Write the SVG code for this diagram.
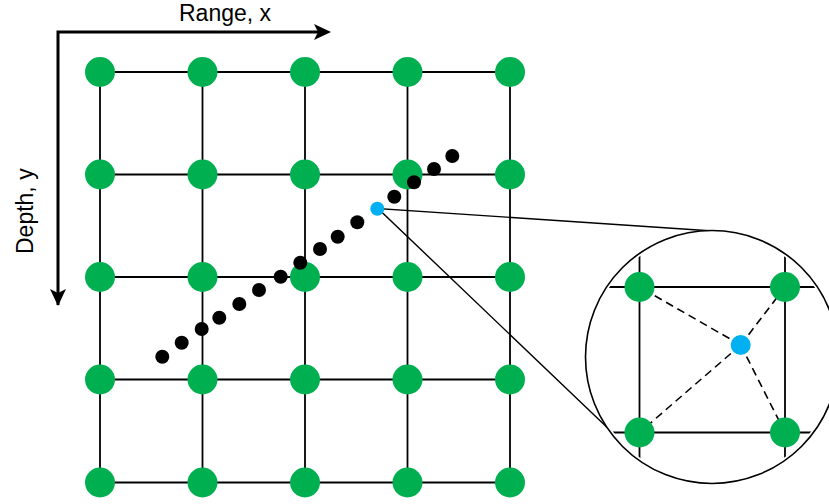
<svg xmlns="http://www.w3.org/2000/svg" width="829" height="504" viewBox="0 0 829 504">
<style>
.grid{stroke:#000;stroke-width:1.8;fill:none}
.g{fill:#00B050}
.b{fill:#00B0F0}
.k{fill:#000}
.ax{stroke:#000;stroke-width:3;fill:none}
.zl{stroke:#000;stroke-width:1.4;fill:none}
.dash{stroke:#000;stroke-width:1.6;stroke-dasharray:8 5;fill:none}
.lbl{font-family:"Liberation Sans",Arial,sans-serif;font-size:23px;fill:#000}
</style>
<defs>
<clipPath id="cc"><circle cx="712" cy="357" r="124"/></clipPath>
</defs>
<rect width="829" height="504" fill="#fff"/>

<g id="axes">
<path class="ax" d="M58,305 V32 H320"/>
<path d="M331,32 L314,24 L318,32 L314,40 Z" fill="#000"/>
<path d="M58,306 L50,289 L58,293 L66,289 Z" fill="#000"/>
<text class="lbl" x="179" y="21">Range, x</text>
<text class="lbl" transform="translate(33,254) rotate(-90)">Depth, y</text>
</g>

<g id="connectors">
<g class="grid">
<path d="M100,72 H510 M100,174.5 H510 M100,277 H510 M100,379.5 H510 M100,482.5 H510"/>
<path d="M100,72 V482.5 M202.5,72 V482.5 M305,72 V482.5 M407.5,72 V482.5 M510,72 V482.5"/>
</g>
<path class="zl" d="M713,231 L378,208.5 L614,434"/>
</g>

<g id="grid-nodes">
<g id="n11"><circle class="g" cx="100" cy="72" r="15"/></g>
<g id="n12"><circle class="g" cx="202.5" cy="72" r="15"/></g>
<g id="n13"><circle class="g" cx="305" cy="72" r="15"/></g>
<g id="n14"><circle class="g" cx="407.5" cy="72" r="15"/></g>
<g id="n15"><circle class="g" cx="510" cy="72" r="15"/></g>
<g id="n21"><circle class="g" cx="100" cy="174.5" r="15"/></g>
<g id="n22"><circle class="g" cx="202.5" cy="174.5" r="15"/></g>
<g id="n23"><circle class="g" cx="305" cy="174.5" r="15"/></g>
<g id="n24"><circle class="g" cx="407.5" cy="174.5" r="15"/></g>
<g id="n25"><circle class="g" cx="510" cy="174.5" r="15"/></g>
<g id="n31"><circle class="g" cx="100" cy="277" r="15"/></g>
<g id="n32"><circle class="g" cx="202.5" cy="277" r="15"/></g>
<g id="n33"><circle class="g" cx="305" cy="277" r="15"/></g>
<g id="n34"><circle class="g" cx="407.5" cy="277" r="15"/></g>
<g id="n35"><circle class="g" cx="510" cy="277" r="15"/></g>
<g id="n41"><circle class="g" cx="100" cy="379.5" r="15"/></g>
<g id="n42"><circle class="g" cx="202.5" cy="379.5" r="15"/></g>
<g id="n43"><circle class="g" cx="305" cy="379.5" r="15"/></g>
<g id="n44"><circle class="g" cx="407.5" cy="379.5" r="15"/></g>
<g id="n45"><circle class="g" cx="510" cy="379.5" r="15"/></g>
<g id="n51"><circle class="g" cx="100" cy="482.5" r="15"/></g>
<g id="n52"><circle class="g" cx="202.5" cy="482.5" r="15"/></g>
<g id="n53"><circle class="g" cx="305" cy="482.5" r="15"/></g>
<g id="n54"><circle class="g" cx="407.5" cy="482.5" r="15"/></g>
<g id="n55"><circle class="g" cx="510" cy="482.5" r="15"/></g>
</g>

<g id="track">
<circle class="k" cx="162.3" cy="356.7" r="7"/>
<circle class="k" cx="181.7" cy="342.7" r="7"/>
<circle class="k" cx="201.7" cy="329" r="7"/>
<circle class="k" cx="219.3" cy="317.7" r="7"/>
<circle class="k" cx="239.3" cy="304" r="7"/>
<circle class="k" cx="259" cy="290" r="7"/>
<circle class="k" cx="280.7" cy="276.7" r="7"/>
<circle class="k" cx="300.3" cy="262.7" r="7"/>
<circle class="k" cx="320" cy="249" r="7"/>
<circle class="k" cx="337.7" cy="236.7" r="7"/>
<circle class="k" cx="357.3" cy="222.3" r="7"/>
<circle class="k" cx="394.3" cy="196.7" r="7"/>
<circle class="k" cx="414" cy="182.3" r="7"/>
<circle class="k" cx="434" cy="169" r="7"/>
<circle class="k" cx="452.3" cy="156" r="7"/>
</g>
<g id="point"><circle class="b" cx="377.3" cy="208.7" r="7"/></g>

<g id="zoom">
<circle cx="712" cy="357" r="126.5" fill="#fff" stroke="#000" stroke-width="1.6"/>
<g clip-path="url(#cc)" class="grid">
<path d="M580,287 H840 M580,432.5 H840 M639.5,220 V500 M785,220 V500"/>
</g>
<g class="dash">
<path d="M740.7,345 L639.5,287 M740.7,345 L785,287 M740.7,345 L639.5,432.5 M740.7,345 L785,432.5"/>
</g>
<g id="z1"><circle class="g" cx="639.5" cy="287" r="15"/></g>
<g id="z2"><circle class="g" cx="785" cy="287" r="15"/></g>
<g id="z3"><circle class="g" cx="639.5" cy="432.5" r="15"/></g>
<g id="z4"><circle class="g" cx="785" cy="432.5" r="15"/></g>
<g id="zp"><circle class="b" cx="740.7" cy="345" r="10"/></g>
</g>
</svg>
